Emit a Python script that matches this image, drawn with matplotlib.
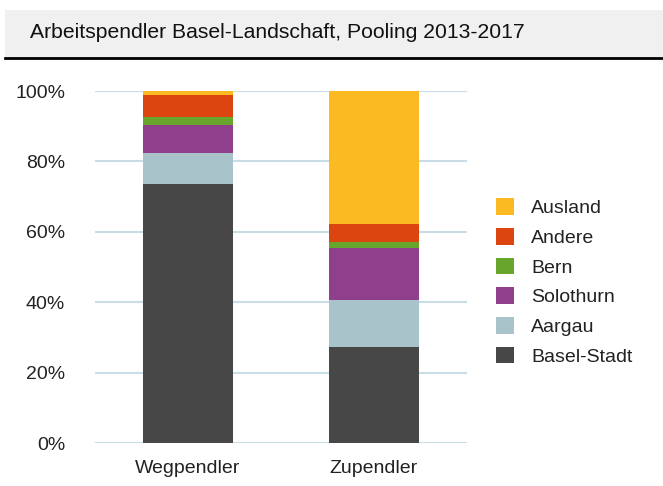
import matplotlib
matplotlib.use("Agg")
import matplotlib.pyplot as plt
from matplotlib.patches import Rectangle, Patch
import numpy as np

plt.rcParams['font.family'] = ['Liberation Sans', 'DejaVu Sans']

categories = ["Wegpendler", "Zupendler"]
series = ["Basel-Stadt", "Aargau", "Solothurn", "Bern", "Andere", "Ausland"]
values = {
    "Basel-Stadt": [73.6, 27.2],
    "Aargau": [8.9, 13.4],
    "Solothurn": [7.8, 14.7],
    "Bern": [2.3, 1.7],
    "Andere": [6.3, 5.2],
    "Ausland": [1.1, 37.8],
}
colors = {
    "Basel-Stadt": "#474747",
    "Aargau": "#A8C3CA",
    "Solothurn": "#8F3F8C",
    "Bern": "#67A52D",
    "Andere": "#DC4510",
    "Ausland": "#FBBA22",
}
yticks = [0, 20, 40, 60, 80, 100]
title = "Arbeitspendler Basel-Landschaft, Pooling 2013-2017"

W, H = 663, 486
fig = plt.figure(figsize=(W/100, H/100), dpi=100)

# title box
fig.patches.append(Rectangle((5/W, 1-57/H), 1-5/W, 47/H, transform=fig.transFigure,
                             facecolor="#f0f0f0", edgecolor="none", zorder=0))
fig.lines.append(plt.Line2D([5/W, 1], [1-58.5/H, 1-58.5/H], transform=fig.transFigure,
                            color="black", linewidth=2))
fig.text(30/W, 1-33/H, title, fontsize=15.2, color="#111111", va="center", ha="left")

ax = fig.add_axes([95/W, 1-443/H, (467-95)/W, (443-91)/H])
x = np.arange(len(categories))
bottom = np.zeros(len(categories))
for s in series:
    v = np.array(values[s])
    ax.bar(x, v, width=0.48, bottom=bottom, color=colors[s], zorder=3, linewidth=0)
    bottom += v

fs = 14
ax.set_xlim(-0.5, 1.5)
ax.set_ylim(0, 100)
ax.set_yticks(yticks)
ax.set_yticklabels([f"{t}%" for t in yticks], fontsize=fs, color="#222222")
ax.set_xticks(x)
ax.set_xticklabels(categories, fontsize=fs, color="#222222")
ax.tick_params(axis="both", length=0)
ax.tick_params(axis="y", pad=21.5)
ax.tick_params(axis="x", pad=12)
for sp in ax.spines.values():
    sp.set_visible(False)
ax.yaxis.grid(True, color="#c9dde6", linewidth=1.5, zorder=0)
ax.set_axisbelow(True)

handles = [Patch(facecolor=colors[s], edgecolor="none") for s in reversed(series)]
fig.legend(handles, list(reversed(series)), loc="center left",
           bbox_to_anchor=(478/W, 1-282/H), frameon=False, fontsize=fs,
           labelcolor="#222222", handlelength=0.93, handleheight=0.93,
           labelspacing=0.55, handletextpad=0.9)

fig.savefig("out.png", dpi=100)
